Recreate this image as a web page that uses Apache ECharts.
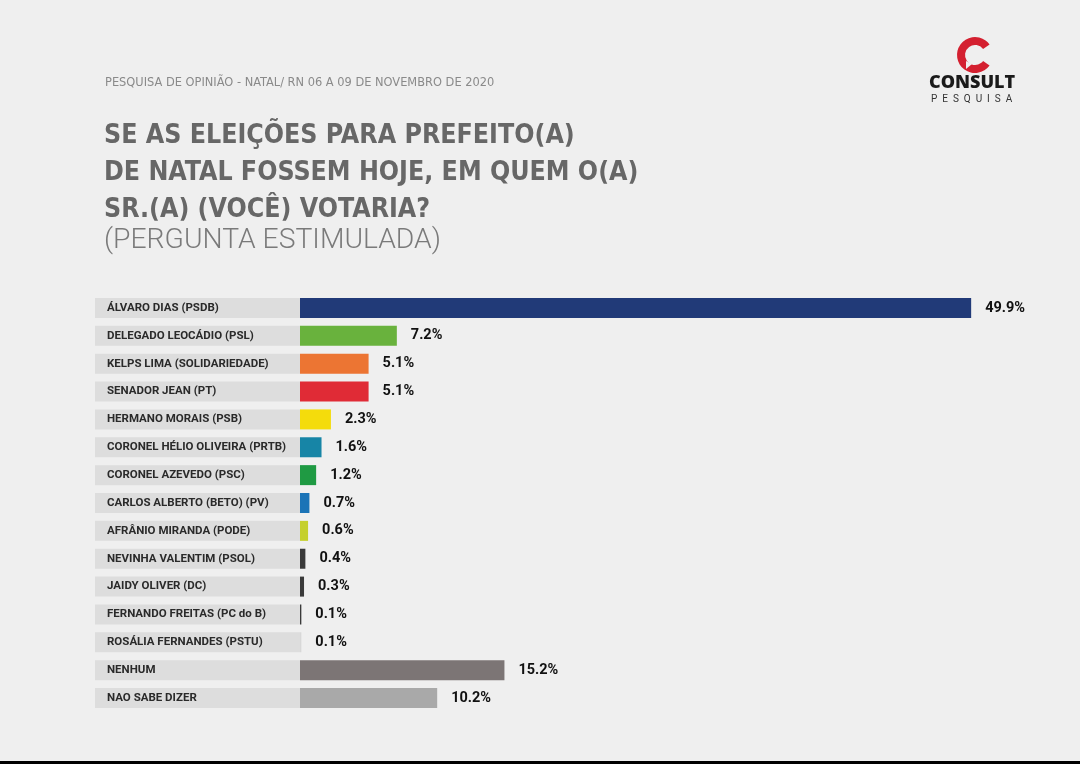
<!DOCTYPE html>
<html>
<head>
<meta charset="utf-8">
<script src="https://cdn.jsdelivr.net/npm/echarts@6/dist/echarts.min.js"></script>
<style>
  html, body { margin: 0; padding: 0; background: #efefef; }
  #content { width: 1080px; height: 764px; }
</style>
</head>
<body>
<div id="content"></div>
<script>
// dados da pesquisa
var candidatos = [
  "ÁLVARO DIAS (PSDB)",
  "DELEGADO LEOCÁDIO (PSL)",
  "KELPS LIMA (SOLIDARIEDADE)",
  "SENADOR JEAN (PT)",
  "HERMANO MORAIS (PSB)",
  "CORONEL HÉLIO OLIVEIRA (PRTB)",
  "CORONEL AZEVEDO (PSC)",
  "CARLOS ALBERTO (BETO) (PV)",
  "AFRÂNIO MIRANDA (PODE)",
  "NEVINHA VALENTIM (PSOL)",
  "JAIDY OLIVER (DC)",
  "FERNANDO FREITAS (PC do B)",
  "ROSÁLIA FERNANDES (PSTU)",
  "NENHUM",
  "NAO SABE DIZER"
];
var percentuais = [49.9, 7.2, 5.1, 5.1, 2.3, 1.6, 1.2, 0.7, 0.6, 0.4, 0.3, 0.1, 0.1, 15.2, 10.2];
var cores = [
  "#213a78", "#69b23d", "#ec7533", "#e02b36", "#f4dc0c",
  "#1785a6", "#1f9a43", "#1b74b7", "#c5d02c", "#3a3a3a",
  "#3a3a3a", "#3a3a3a", "#d8d8d8", "#7c7575", "#a9a9a9"
];

var chartDom = document.getElementById("content");
var myChart = echarts.init(chartDom);

var barData = percentuais.map(function (v, i) {
  return { value: v, itemStyle: { color: cores[i] } };
});

var option = {
  backgroundColor: "#efefef",
  animation: false,
  grid: {
    left: 300,
    top: 294,
    width: 672.5,
    height: 418,
  },
  xAxis: {
    type: "value",
    min: 0,
    max: 50,
    show: false,
  },
  yAxis: {
    type: "category",
    inverse: true,
    data: candidatos,
    axisLine: { show: false },
    axisTick: { show: false },
    axisLabel: {
      margin: 205,
      align: "left",
      width: 193,
      height: 20,
      lineHeight: 20,
      padding: [0, 0, 0, 12],
      backgroundColor: "#dddddd",
      color: "#2a2a2a",
      fontFamily: "Roboto",
      fontWeight: "bold",
      fontSize: 11.5,
    },
  },
  series: [
    {
      type: "bar",
      barWidth: 20,
      data: barData,
      label: {
        show: true,
        position: "right",
        distance: 14,
        formatter: "{c}%",
        color: "#111",
        fontFamily: "Roboto",
        fontWeight: "bold",
        fontSize: 14.5,
      },
    },
  ],
  graphic: [
    {
      type: "text",
      left: 105,
      top: 76,
      style: {
        text: "PESQUISA DE OPINIÃO - NATAL/ RN 06 A 09 DE NOVEMBRO DE 2020",
        fill: "#8a8a8a",
        font: "300 12.7px 'Liberation Sans Narrow', 'DejaVu Sans Condensed', Roboto",
      },
    },
    {
      type: "text",
      left: 104,
      top: 118,
      style: {
        text: "SE AS ELEIÇÕES PARA PREFEITO(A)\nDE NATAL FOSSEM HOJE, EM QUEM O(A)\nSR.(A) (VOCÊ) VOTARIA?",
        fill: "#676767",
        lineHeight: 37,
        font: "bold 26.5px 'Liberation Sans Narrow', 'DejaVu Sans Condensed', Roboto",
      },
    },
    {
      type: "text",
      left: 104,
      top: 227,
      style: {
        text: "(PERGUNTA ESTIMULADA)",
        fill: "#7a7a7a",
        font: "300 28.3px Roboto",
      },
    },
    // logo CONSULT
    {
      type: "sector",
      shape: { cx: 975, cy: 55, r0: 10, r: 18, startAngle: Math.PI * 0.2, endAngle: Math.PI * 1.8, clockwise: true },
      style: { fill: "#d42030" },
    },
    {
      type: "polygon",
      shape: { points: [[966, 61], [966, 69], [972, 64]] },
      style: { fill: "#efefef" },
    },
    {
      type: "text",
      left: 929,
      top: 74,
      style: {
        text: "CONSULT",
        fill: "#1a1a1a",
        font: "800 18px 'Open Sans'",
      },
    },
    {
      type: "text",
      left: 931,
      top: 94,
      style: {
        text: "P  E  S  Q  U  I  S  A",
        fill: "#333",
        font: "10px Roboto",
      },
    },
    {
      type: "rect",
      shape: { x: 0, y: 761, width: 1080, height: 3 },
      style: { fill: "#000" },
    },
  ],
};
myChart.setOption(option);
</script>
</body>
</html>
